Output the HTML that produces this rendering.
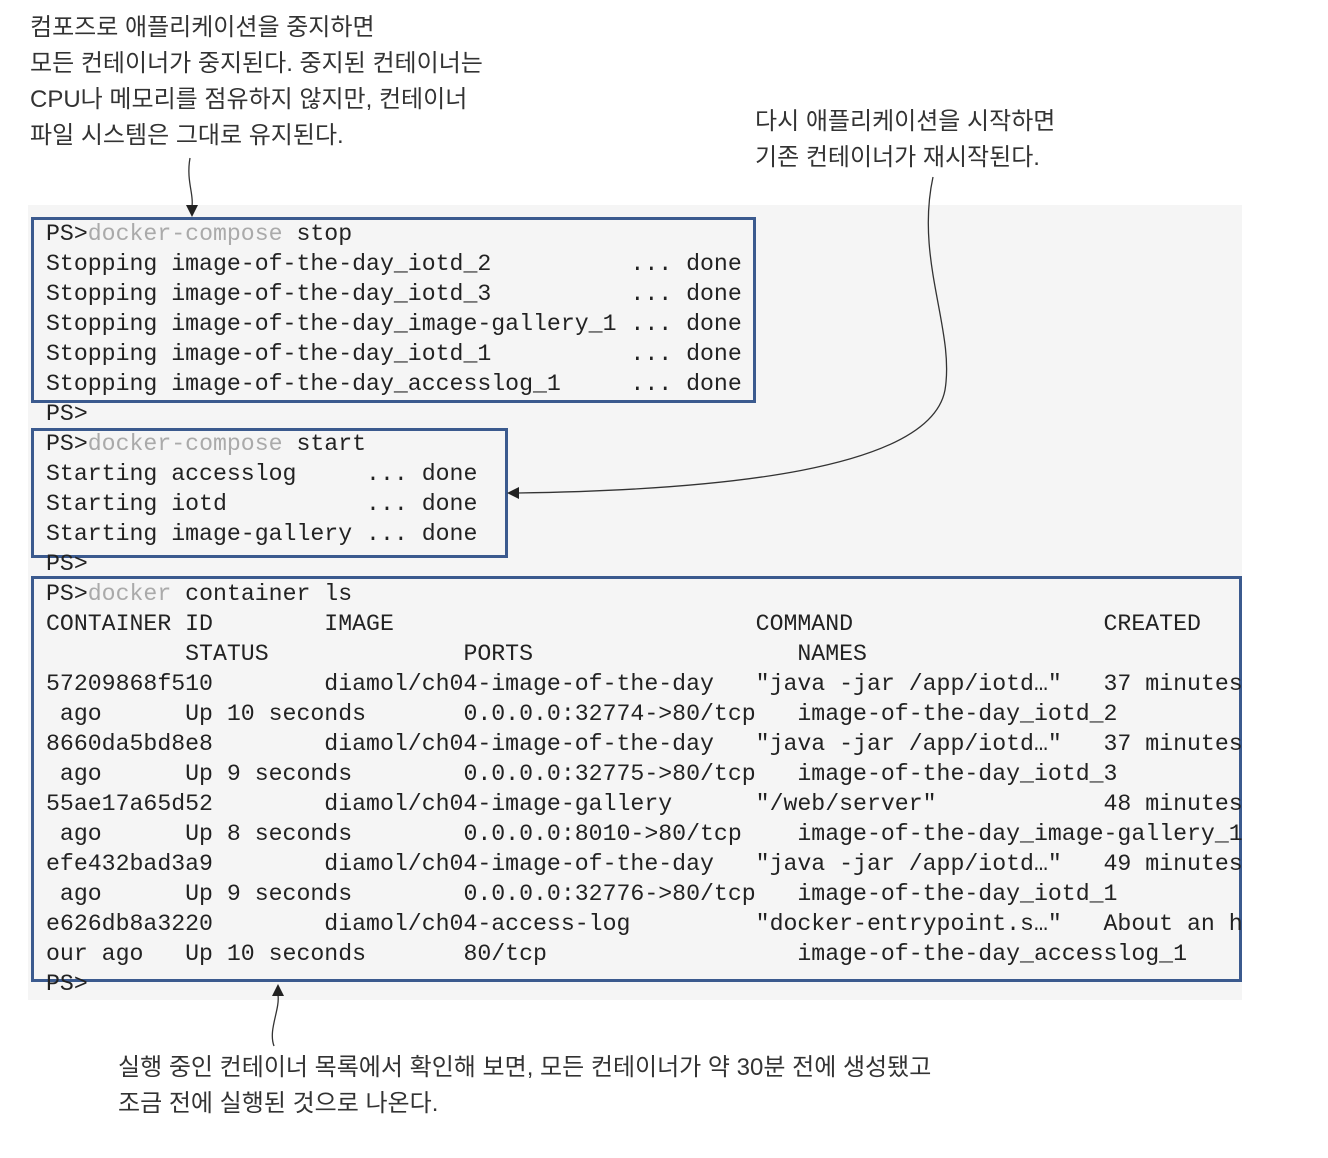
<!DOCTYPE html>
<html><head><meta charset="utf-8"><style>
html,body{margin:0;padding:0;background:#fff;}
body{width:1328px;height:1158px;position:relative;overflow:hidden;}
.bg{position:absolute;left:28px;top:205px;width:1214px;height:795px;background:#f5f5f5;}
.box{position:absolute;border:3px solid #3b5a8e;box-sizing:border-box;}
.l{position:absolute;left:46px;height:30px;line-height:30px;font-family:"Liberation Mono",monospace;font-size:23.2px;color:#222;white-space:pre;}
.g{color:#aaa;}
.k{position:absolute;font-family:"Liberation Sans","Noto Sans CJK KR",sans-serif;font-size:24px;color:#333;white-space:pre;line-height:36px;}
</style></head><body>
<div class="bg"></div>
<div class="k" style="left:30px;top:10px;">컴포즈로 애플리케이션을 중지하면
모든 컨테이너가 중지된다. 중지된 컨테이너는
CPU나 메모리를 점유하지 않지만, 컨테이너
파일 시스템은 그대로 유지된다.</div>
<div class="k" style="left:755px;top:104px;">다시 애플리케이션을 시작하면
기존 컨테이너가 재시작된다.</div>
<div class="k" style="left:118px;top:1050px;">실행 중인 컨테이너 목록에서 확인해 보면, 모든 컨테이너가 약 30분 전에 생성됐고
조금 전에 실행된 것으로 나온다.</div>

<div class="box" style="left:31px;top:217px;width:725px;height:186px;"></div>
<div class="box" style="left:31px;top:428px;width:477px;height:130px;"></div>
<div class="box" style="left:31px;top:576px;width:1211px;height:406px;"></div>

<div class="l" style="top:219px">PS&gt;<span class="g">docker-compose</span> stop</div>
<div class="l" style="top:249px">Stopping image-of-the-day_iotd_2          ... done</div>
<div class="l" style="top:279px">Stopping image-of-the-day_iotd_3          ... done</div>
<div class="l" style="top:309px">Stopping image-of-the-day_image-gallery_1 ... done</div>
<div class="l" style="top:339px">Stopping image-of-the-day_iotd_1          ... done</div>
<div class="l" style="top:369px">Stopping image-of-the-day_accesslog_1     ... done</div>
<div class="l" style="top:399px">PS&gt;</div>
<div class="l" style="top:429px">PS&gt;<span class="g">docker-compose</span> start</div>
<div class="l" style="top:459px">Starting accesslog     ... done</div>
<div class="l" style="top:489px">Starting iotd          ... done</div>
<div class="l" style="top:519px">Starting image-gallery ... done</div>
<div class="l" style="top:549px">PS&gt;</div>
<div class="l" style="top:579px">PS&gt;<span class="g">docker</span> container ls</div>
<div class="l" style="top:609px">CONTAINER ID        IMAGE                          COMMAND                  CREATED</div>
<div class="l" style="top:639px">          STATUS              PORTS                   NAMES</div>
<div class="l" style="top:669px">57209868f510        diamol/ch04-image-of-the-day   "java -jar /app/iotd…"   37 minutes</div>
<div class="l" style="top:699px"> ago      Up 10 seconds       0.0.0.0:32774-&gt;80/tcp   image-of-the-day_iotd_2</div>
<div class="l" style="top:729px">8660da5bd8e8        diamol/ch04-image-of-the-day   "java -jar /app/iotd…"   37 minutes</div>
<div class="l" style="top:759px"> ago      Up 9 seconds        0.0.0.0:32775-&gt;80/tcp   image-of-the-day_iotd_3</div>
<div class="l" style="top:789px">55ae17a65d52        diamol/ch04-image-gallery      "/web/server"            48 minutes</div>
<div class="l" style="top:819px"> ago      Up 8 seconds        0.0.0.0:8010-&gt;80/tcp    image-of-the-day_image-gallery_1</div>
<div class="l" style="top:849px">efe432bad3a9        diamol/ch04-image-of-the-day   "java -jar /app/iotd…"   49 minutes</div>
<div class="l" style="top:879px"> ago      Up 9 seconds        0.0.0.0:32776-&gt;80/tcp   image-of-the-day_iotd_1</div>
<div class="l" style="top:909px">e626db8a3220        diamol/ch04-access-log         "docker-entrypoint.s…"   About an h</div>
<div class="l" style="top:939px">our ago   Up 10 seconds       80/tcp                  image-of-the-day_accesslog_1</div>
<div class="l" style="top:969px">PS&gt;</div>

<svg width="1328" height="1158" style="position:absolute;left:0;top:0" fill="none" stroke="#333" stroke-width="1.3">
<path d="M190,158 C186,180 194,195 192,206"/>
<polygon points="186,205 198,205 192,217" fill="#222" stroke="none"/>
<path d="M933,177 C915,260 955,330 945,390 C930,470 720,490 518,493"/>
<polygon points="519,487 519,499 507,493" fill="#222" stroke="none"/>
<path d="M274,1046 C268,1030 280,1010 278,995"/>
<polygon points="272,996 284,996 278,984" fill="#222" stroke="none"/>
</svg>
</body></html>
